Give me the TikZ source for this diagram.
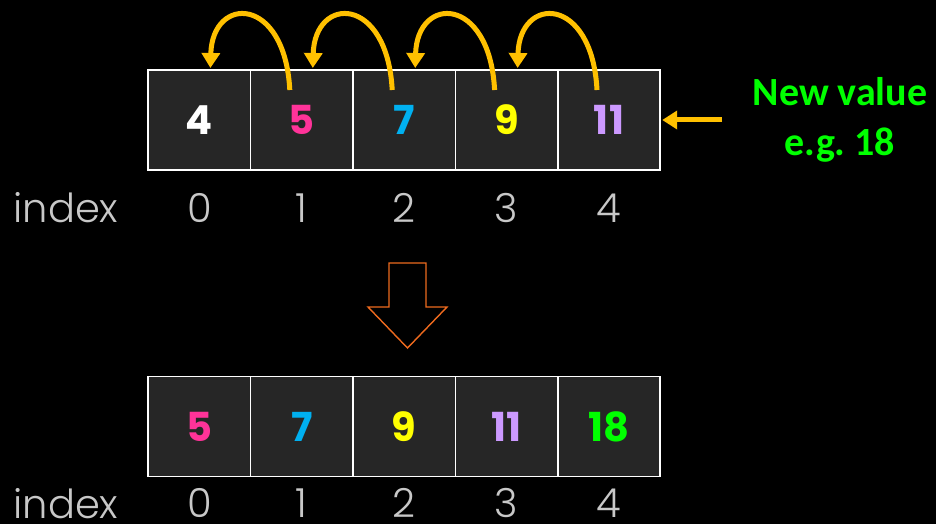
\documentclass[tikz,border=0pt]{standalone}
\usepackage{fontspec}
\usetikzlibrary{arrows.meta, positioning}
\newfontfamily\cellfont{Poppins}
\newfontfamily\idxfont{Poppins}[UprightFont=* Light]
\newfontfamily\notefont{Carlito}
\definecolor{cellbg}{HTML}{262626}
\definecolor{idxgray}{HTML}{C8C8C8}
\definecolor{hopgold}{HTML}{FFC000}
\definecolor{flowred}{HTML}{EE6A1E}
\definecolor{pinknum}{HTML}{FF3399}
\definecolor{bluenum}{HTML}{00B0F0}
\definecolor{yellownum}{HTML}{FFFF00}
\definecolor{lilacnum}{HTML}{CC99FF}
\definecolor{greennum}{HTML}{00FF00}

\begin{document}
\begin{tikzpicture}[x=1pt, y=-1pt,
    cell/.style={rectangle, draw=white, fill=cellbg, line width=1.6pt, minimum width=102.4pt, minimum height=100pt, inner sep=0pt, outer sep=0pt, text=white, font=\cellfont\bfseries\fontsize{40}{40}\selectfont},
    idx/.style={anchor=base, inner sep=0pt, text=idxgray, font=\idxfont\fontsize{40}{40}\selectfont},
    note/.style={align=center, text=greennum, font=\notefont\bfseries\fontsize{40}{50}\selectfont},
    hop/.style={-{Triangle[length=15pt,width=18pt]}, line width=5pt, draw=hopgold},
    flow/.style={draw=flowred, line width=1.4pt, line join=miter}
]

\useasboundingbox (0,0) rectangle (936,524);
\fill[black] (0,0) rectangle (936,524);

% array before the shift
\node (a0) [cell] at (199.4,120) {4};
\node (a1) [cell, right=0pt of a0, text=pinknum] {5};
\node (a2) [cell, right=0pt of a1, text=bluenum] {7};
\node (a3) [cell, right=0pt of a2, text=yellownum] {9};
\node (a4) [cell, right=0pt of a3, text=lilacnum] {11};

\node (itop) [idx] at (66,222) {index};
\node (ia0) [idx] at ([yshift=-52pt]a0.south) {0};
\node (ia1) [idx] at ([yshift=-52pt]a1.south) {1};
\node (ia2) [idx] at ([yshift=-52pt]a2.south) {2};
\node (ia3) [idx] at ([yshift=-52pt]a3.south) {3};
\node (ia4) [idx] at ([yshift=-52pt]a4.south) {4};

% each value moves one place left
\draw [hop] ([xshift=-12pt,yshift=-20pt]a1.north) .. controls +(-5,-95) and +(2,-73) .. ([xshift=11pt,yshift=2pt]a0.north);
\draw [hop] ([xshift=-12pt,yshift=-20pt]a2.north) .. controls +(-5,-95) and +(2,-73) .. ([xshift=11pt,yshift=2pt]a1.north);
\draw [hop] ([xshift=-12pt,yshift=-20pt]a3.north) .. controls +(-5,-95) and +(2,-73) .. ([xshift=11pt,yshift=2pt]a2.north);
\draw [hop] ([xshift=-12pt,yshift=-20pt]a4.north) .. controls +(-5,-95) and +(2,-73) .. ([xshift=11pt,yshift=2pt]a3.north);

\node (nv) [note] at (840,120) {New value\\e.g.\ 18};
\draw [hop] ([xshift=-27pt]nv.west) -- ([xshift=2pt]a4.east);

\draw [flow] (389,263) -- (426,263) -- (426,307) -- (447,307) -- (407.5,348) -- (368,307) -- (389,307) -- cycle;

% array after the shift
\node (b0) [cell, text=pinknum] at (199.4,426.5) {5};
\node (b1) [cell, right=0pt of b0, text=bluenum] {7};
\node (b2) [cell, right=0pt of b1, text=yellownum] {9};
\node (b3) [cell, right=0pt of b2, text=lilacnum] {11};
\node (b4) [cell, right=0pt of b3, text=greennum] {18};

\node (ibot) [idx] at (66,518) {index};
\node (ib0) [idx] at ([yshift=-41pt]b0.south) {0};
\node (ib1) [idx] at ([yshift=-41pt]b1.south) {1};
\node (ib2) [idx] at ([yshift=-41pt]b2.south) {2};
\node (ib3) [idx] at ([yshift=-41pt]b3.south) {3};
\node (ib4) [idx] at ([yshift=-41pt]b4.south) {4};

\end{tikzpicture}
\end{document}
